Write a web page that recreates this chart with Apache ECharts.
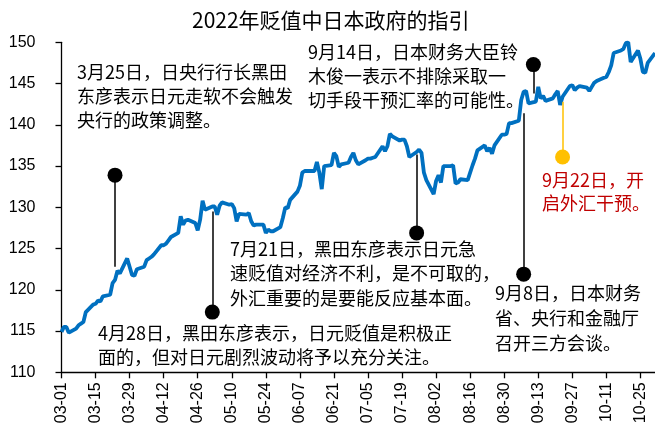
<!DOCTYPE html>
<html>
<head>
<meta charset="utf-8">
<script src="https://cdn.jsdelivr.net/npm/echarts@6/dist/echarts.min.js"></script>
<style>
  html, body { margin: 0; padding: 0; background: #fff; }
  #chart { width: 655px; height: 433px; }
</style>
</head>
<body>
<div id="chart"></div>
<script>
// USD/JPY daily close, 2022 (trading days)
const tradeDates = [
  '03-01','03-02','03-03','03-04','03-07','03-08','03-09','03-10','03-11','03-14','03-15','03-16','03-17','03-18','03-21','03-22','03-23','03-24','03-25','03-28','03-29','03-30','03-31',
  '04-01','04-04','04-05','04-06','04-07','04-08','04-11','04-12','04-13','04-14','04-15','04-18','04-19','04-20','04-21','04-22','04-25','04-26','04-27','04-28','04-29',
  '05-02','05-03','05-04','05-05','05-06','05-09','05-10','05-11','05-12','05-13','05-16','05-17','05-18','05-19','05-20','05-23','05-24','05-25','05-26','05-27','05-30','05-31',
  '06-01','06-02','06-03','06-06','06-07','06-08','06-09','06-10','06-13','06-14','06-15','06-16','06-17','06-20','06-21','06-22','06-23','06-24','06-27','06-28','06-29','06-30',
  '07-01','07-04','07-05','07-06','07-07','07-08','07-11','07-12','07-13','07-14','07-15','07-18','07-19','07-20','07-21','07-22','07-25','07-26','07-27','07-28','07-29',
  '08-01','08-02','08-03','08-04','08-05','08-08','08-09','08-10','08-11','08-12','08-15','08-16','08-17','08-18','08-19','08-22','08-23','08-24','08-25','08-26','08-29','08-30','08-31',
  '09-01','09-02','09-05','09-06','09-07','09-08','09-09','09-12','09-13','09-14','09-15','09-16','09-19','09-20','09-21','09-22','09-23','09-26','09-27','09-28','09-29','09-30',
  '10-03','10-04','10-05','10-06','10-07','10-10','10-11','10-12','10-13','10-14','10-17','10-18','10-19','10-20','10-21','10-24','10-25','10-26','10-27','10-28','10-31'
];
const closes = [
  114.9,115.5,115.5,114.8,115.3,115.7,115.9,116.1,117.3,118.2,118.3,118.7,118.6,119.2,119.4,120.8,121.2,122.3,122.0,123.8,122.8,121.8,121.7,
  122.5,122.8,123.6,123.8,124.0,124.3,125.4,125.4,125.6,126.0,126.4,126.9,128.9,127.9,128.4,128.5,128.1,127.2,128.5,130.8,129.7,
  130.1,130.1,129.1,130.2,130.6,130.3,130.4,129.9,128.3,129.2,129.1,129.3,128.3,127.8,127.9,127.9,126.9,127.3,127.1,127.1,127.6,128.7,
  130.0,129.9,130.9,131.9,132.6,134.2,134.4,134.4,134.4,135.5,134.2,132.2,135.0,135.1,136.6,136.2,134.9,135.2,135.4,136.1,136.6,135.7,
  135.2,135.7,135.9,135.9,136.0,136.1,137.4,136.8,137.4,138.9,138.6,138.1,138.2,138.2,137.4,136.1,136.7,137.0,136.6,134.2,133.3,
  131.6,133.2,133.9,133.0,135.0,135.0,135.1,132.9,133.0,133.4,133.3,134.2,135.1,135.9,136.9,137.5,136.8,137.2,136.5,137.5,138.8,138.8,138.9,
  140.2,140.2,140.5,143.0,144.0,144.1,142.6,142.8,144.6,143.2,143.5,142.9,143.2,143.7,144.1,142.4,143.4,144.7,144.8,144.2,144.5,144.7,
  144.5,144.1,144.6,145.1,145.3,145.7,145.8,146.4,147.2,148.7,149.0,149.2,149.9,150.0,147.6,149.0,148.0,146.4,146.3,147.5,148.7
];

// Policy-statement markers: date, dot value, stem end value
const noteDates = ['03-23', '05-02', '07-25', '09-07', '09-11'];
const noteDotValues = [133.9, 117.3, 126.9, 121.9, 147.3];
const noteStemEnds = [122.8, 129.5, 136.4, 141.4, 143.8];

// Intervention marker
const interventionDate = '09-23';
const interventionDot = 136.1;
const interventionStemEnd = 142.8;

const yTicks = { min: 110, max: 150, step: 5 };

// Calendar-day categories from 03-01 to 10-31
const calendar = [];
for (let t = Date.UTC(2022, 2, 1); t <= Date.UTC(2022, 9, 31); t += 86400000) {
  const d = new Date(t);
  calendar.push(String(d.getUTCMonth() + 1).padStart(2, '0') + '-' + String(d.getUTCDate()).padStart(2, '0'));
}
const closeByDate = {};
tradeDates.forEach((d, i) => { closeByDate[d] = closes[i]; });
const lineData = calendar.map(d => (d in closeByDate ? closeByDate[d] : null));

const idx = d => calendar.indexOf(d);
const noteDots = noteDates.map((d, i) => [idx(d), noteDotValues[i]]);
const noteStems = noteDates.map((d, i) => [
  { coord: [idx(d), noteDotValues[i]] },
  { coord: [idx(d), noteStemEnds[i]] }
]);

const cjk = '"Noto Sans CJK SC", sans-serif';
const noteStyle = (text, lh, color) => ({
  text: text, fontFamily: cjk, fontSize: 18, lineHeight: lh, fill: color || '#000'
});

const chart = echarts.init(document.getElementById('chart'));
chart.setOption({
  animation: false,
  backgroundColor: '#fff',
  title: {
    text: '2022年贬值中日本政府的指引',
    left: 192, top: 10, padding: 0,
    textStyle: { fontFamily: cjk, fontSize: 21, fontWeight: 'normal', color: '#000' }
  },
  grid: { left: 61.5, right: 0, top: 42.3, bottom: 60.7 },
  xAxis: {
    type: 'category',
    data: calendar,
    boundaryGap: false,
    axisLine: { lineStyle: { color: '#000', width: 1.3 } },
    axisTick: { show: true, interval: 13, length: 6, lineStyle: { color: '#000', width: 1.3 } },
    axisLabel: {
      interval: 13, rotate: 90, margin: 10,
      fontFamily: '"Liberation Sans", Arial, sans-serif', fontSize: 16, color: '#000'
    },
    splitLine: { show: false }
  },
  yAxis: {
    type: 'value',
    min: yTicks.min, max: yTicks.max, interval: yTicks.step,
    axisLine: { show: true, lineStyle: { color: '#000', width: 1.3 } },
    axisTick: { show: true, length: 6, lineStyle: { color: '#000', width: 1.3 } },
    axisLabel: {
      margin: 26,
      fontFamily: '"Liberation Sans", Arial, sans-serif', fontSize: 16, color: '#000'
    },
    splitLine: { show: false }
  },
  series: [
    {
      name: 'USD/JPY',
      type: 'line',
      data: lineData,
      connectNulls: true,
      showSymbol: false,
      symbol: 'none',
      lineStyle: { color: '#0070C0', width: 3.8 },
      z: 3
    },
    {
      name: 'statements',
      type: 'scatter',
      data: noteDots,
      symbol: 'circle',
      symbolSize: 15,
      itemStyle: { color: '#000', opacity: 1 },
      z: 4,
      markLine: {
        silent: true,
        symbol: ['none', 'none'],
        label: { show: false },
        lineStyle: { color: '#000', width: 1.5, type: 'solid', opacity: 1 },
        data: noteStems
      }
    },
    {
      name: 'intervention',
      type: 'scatter',
      data: [[idx(interventionDate), interventionDot]],
      symbol: 'circle',
      symbolSize: 15,
      itemStyle: { color: '#FFC000', opacity: 1 },
      z: 4,
      markLine: {
        silent: true,
        symbol: ['none', 'none'],
        label: { show: false },
        lineStyle: { color: '#FFC000', width: 1.5, type: 'solid', opacity: 1 },
        data: [[
          { coord: [idx(interventionDate), interventionDot] },
          { coord: [idx(interventionDate), interventionStemEnd] }
        ]]
      }
    }
  ],
  graphic: [
    { type: 'text', left: 77, top: 60, z: 10,
      style: noteStyle('3月25日，日央行行长黑田\n东彦表示日元走软不会触发\n央行的政策调整。', 24) },
    { type: 'text', left: 308, top: 40, z: 10,
      style: noteStyle('9月14日，日本财务大臣铃\n木俊一表示不排除采取一\n切手段干预汇率的可能性。', 24) },
    { type: 'text', left: 542, top: 169, z: 10,
      style: noteStyle('9月22日，开\n启外汇干预。', 23, '#C00000') },
    { type: 'text', left: 230, top: 237, z: 10,
      style: noteStyle('7月21日，黑田东彦表示日元急\n速贬值对经济不利，是不可取的，\n外汇重要的是要能反应基本面。', 24.3) },
    { type: 'text', left: 98, top: 321, z: 10,
      style: noteStyle('4月28日，黑田东彦表示，日元贬值是积极正\n面的，但对日元剧烈波动将予以充分关注。', 24) },
    { type: 'text', left: 495, top: 281, z: 10,
      style: noteStyle('9月8日，日本财务\n省、央行和金融厅\n召开三方会谈。', 25) }
  ]
});
</script>
</body>
</html>
